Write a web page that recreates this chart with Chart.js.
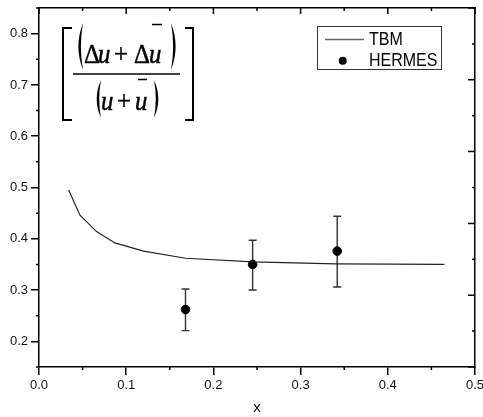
<!DOCTYPE html>
<html><head><meta charset="utf-8">
<script src="https://cdn.jsdelivr.net/npm/chart.js@4/dist/chart.umd.min.js"></script>
<style>html,body{margin:0;padding:0;background:#fff}canvas{display:block}</style>
</head><body>
<canvas id="c" width="483" height="417"></canvas>
<script>
// ---- data ----
const tbmX = [0.034, 0.047, 0.066, 0.087, 0.12, 0.168, 0.245, 0.34, 0.465];
const tbmY = [0.495, 0.446, 0.414, 0.392, 0.376, 0.362, 0.355, 0.351, 0.350];
const hermesX = [0.168, 0.245, 0.342];
const hermesY = [0.262, 0.350, 0.376];
const hermesErrLow = [0.221, 0.300, 0.306];
const hermesErrHigh = [0.302, 0.397, 0.444];
const xTicks = [0.0, 0.1, 0.2, 0.3, 0.4, 0.5];
const xMinorTicks = [0.05, 0.15, 0.25, 0.35, 0.45];
const yTicks = [0.2, 0.3, 0.4, 0.5, 0.6, 0.7, 0.8];
const yMinorTicks = [0.15, 0.25, 0.35, 0.45, 0.55, 0.65, 0.75, 0.85];
const rightTicks = [0.0, 0.2, 0.4, 0.6, 0.8, 1.0];
const rightMinorTicks = [0.1, 0.3, 0.5, 0.7, 0.9];
const seriesLabels = ['TBM', 'HERMES'];
const xTitle = 'x';

const FONT = "'Liberation Sans', Arial, Helvetica, sans-serif";
const SERIF = "'Liberation Serif', 'Times New Roman', serif";

const extras = {
  id: 'extras',
  beforeDatasetsDraw(chart) {
    const ctx = chart.ctx, xs = chart.scales.x, ys = chart.scales.y;
    ctx.save();
    ctx.strokeStyle = '#333';
    ctx.lineWidth = 1.4;
    for (let i = 0; i < hermesX.length; i++) {
      const px = xs.getPixelForValue(hermesX[i]);
      const lo = ys.getPixelForValue(hermesErrLow[i]);
      const hi = ys.getPixelForValue(hermesErrHigh[i]);
      ctx.beginPath();
      ctx.moveTo(px, lo); ctx.lineTo(px, hi);
      ctx.moveTo(px - 4, lo); ctx.lineTo(px + 4, lo);
      ctx.moveTo(px - 4, hi); ctx.lineTo(px + 4, hi);
      ctx.stroke();
    }
    ctx.restore();
  },
  afterDraw(chart) {
    const ctx = chart.ctx, ca = chart.chartArea;
    const xs = chart.scales.x, ys = chart.scales.y, y2 = chart.scales.y2;
    ctx.save();
    ctx.strokeStyle = '#000';
    ctx.lineWidth = 1.5;
    ctx.beginPath();
    xMinorTicks.forEach(v => { const p = xs.getPixelForValue(v); ctx.moveTo(p, ca.bottom); ctx.lineTo(p, ca.bottom + 3); });
    yMinorTicks.forEach(v => { const p = ys.getPixelForValue(v); ctx.moveTo(ca.left - 3, p); ctx.lineTo(ca.left, p); });
    xTicks.forEach(v => { const p = xs.getPixelForValue(v); ctx.moveTo(p, ca.top); ctx.lineTo(p, ca.top + 6); });
    xMinorTicks.forEach(v => { const p = xs.getPixelForValue(v); ctx.moveTo(p, ca.top); ctx.lineTo(p, ca.top + 3); });
    rightTicks.forEach(v => { const p = y2.getPixelForValue(v); ctx.moveTo(ca.right - 7, p); ctx.lineTo(ca.right, p); });
    rightMinorTicks.forEach(v => { const p = y2.getPixelForValue(v); ctx.moveTo(ca.right - 3, p); ctx.lineTo(ca.right, p); });
    ctx.stroke();

    // legend
    ctx.lineWidth = 1;
    ctx.strokeStyle = '#333';
    ctx.strokeRect(317.5, 26.5, 124, 43);
    ctx.strokeStyle = '#666';
    ctx.lineWidth = 1.3;
    ctx.beginPath(); ctx.moveTo(325, 39.5); ctx.lineTo(364, 39.5); ctx.stroke();
    ctx.fillStyle = '#000';
    ctx.beginPath(); ctx.arc(342.7, 60.7, 4, 0, Math.PI * 2); ctx.fill();
    ctx.textBaseline = 'middle';
    ctx.textAlign = 'left';
    ctx.font = '16px ' + FONT;
    [[chart.data.datasets[0].label, 40], [chart.data.datasets[1].label, 61]].forEach(([t, yy]) => {
      ctx.save();
      ctx.translate(369, yy);
      ctx.scale(1, 1.12);
      ctx.fillText(t, 0, 0);
      ctx.restore();
    });

    // formula
    ctx.strokeStyle = '#000';
    ctx.fillStyle = '#000';
    ctx.lineWidth = 2;
    ctx.beginPath();
    ctx.moveTo(72, 28); ctx.lineTo(63, 28); ctx.lineTo(63, 120); ctx.lineTo(72, 120);
    ctx.moveTo(185, 28); ctx.lineTo(193, 28); ctx.lineTo(193, 120); ctx.lineTo(185, 120);
    ctx.stroke();
    ctx.lineWidth = 1.4;
    ctx.beginPath(); ctx.moveTo(73, 74); ctx.lineTo(180, 74); ctx.stroke();
    function paren(x0, y0, y1, bulge, dir) {
      const mid = (y0 + y1) / 2;
      ctx.beginPath();
      ctx.moveTo(x0, y0);
      ctx.quadraticCurveTo(x0 + dir * bulge * 2, mid, x0, y1);
      ctx.quadraticCurveTo(x0 + dir * (bulge * 2 - 5), mid, x0, y0);
      ctx.fill();
    }
    paren(83, 23, 70, 4.6, -1);
    paren(171, 23, 70, 4.6, 1);
    paren(101, 80, 118, 4.3, -1);
    paren(154, 80, 118, 4.3, 1);
    ctx.textBaseline = 'alphabetic';
    const up = '27px ' + SERIF, it = 'italic 27px ' + SERIF;
    function glyph(t, f, x, yb) {
      ctx.save();
      ctx.font = f;
      ctx.translate(x, yb);
      ctx.scale(0.92, 1);
      ctx.fillText(t, 0, 0);
      ctx.lineWidth = 0.5;
      ctx.strokeText(t, 0, 0);
      ctx.restore();
    }
    glyph('\u0394', up, 84, 63);
    glyph('u', it, 98, 63);
    glyph('+', up, 114, 63);
    glyph('\u0394', up, 134, 63);
    glyph('u', it, 149, 63);
    glyph('u', it, 101, 110);
    glyph('+', up, 117, 110);
    glyph('u', it, 135, 110);
    ctx.lineWidth = 1.4;
    ctx.beginPath();
    ctx.moveTo(152, 24.5); ctx.lineTo(162, 24.5);
    ctx.moveTo(138, 79.5); ctx.lineTo(147, 79.5);
    ctx.stroke();
    ctx.restore();
  }
};

new Chart(document.getElementById('c'), {
  type: 'scatter',
  data: {
    datasets: [
      {
        label: seriesLabels[0], type: 'line',
        data: tbmX.map((v, i) => ({ x: v, y: tbmY[i] })),
        borderColor: '#222', borderWidth: 1.2, pointRadius: 0, fill: false, tension: 0,
        xAxisID: 'x', yAxisID: 'y'
      },
      {
        label: seriesLabels[1],
        data: hermesX.map((v, i) => ({ x: v, y: hermesY[i] })),
        backgroundColor: '#000', borderColor: '#000', pointRadius: 4.3, pointHoverRadius: 4.3,
        showLine: false, xAxisID: 'x', yAxisID: 'y'
      }
    ]
  },
  options: {
    responsive: false, animation: false, devicePixelRatio: 1,
    layout: { padding: 0 },
    plugins: { legend: { display: false }, tooltip: { enabled: false } },
    scales: {
      x: {
        type: 'linear', position: 'bottom', min: 0, max: 0.5,
        afterBuildTicks: s => { s.ticks = xTicks.map(v => ({ value: v })); },
        afterFit: s => { s.height = 50; s.paddingLeft = 0; s.paddingRight = 0; },
        ticks: { callback: v => v.toFixed(1), color: '#111', font: { family: FONT, size: 13 }, padding: 3, maxRotation: 0, autoSkip: false },
        grid: { display: true, drawOnChartArea: false, drawTicks: true, tickLength: 8, color: '#000', lineWidth: 1.5 },
        border: { display: true, color: '#000', width: 1.5 },
        title: { display: true, text: xTitle, color: '#111', font: { family: FONT, size: 15 }, padding: { top: 0, bottom: 0 } }
      },
      y: {
        type: 'linear', position: 'left', min: 0.15, max: 0.85,
        afterBuildTicks: s => { s.ticks = yTicks.map(v => ({ value: v })); },
        afterFit: s => { s.width = 39; s.paddingTop = 0; s.paddingBottom = 0; },
        ticks: { callback: v => v.toFixed(1), color: '#111', font: { family: FONT, size: 13 }, padding: 3, autoSkip: false },
        grid: { display: true, drawOnChartArea: false, drawTicks: true, tickLength: 8, color: '#000', lineWidth: 1.5 },
        border: { display: true, color: '#000', width: 1.5 }
      },
      x2: {
        type: 'linear', position: 'top', min: 0, max: 0.5,
        afterFit: s => { s.height = 8; s.paddingLeft = 0; s.paddingRight = 0; },
        ticks: { display: false }, grid: { display: false },
        border: { display: true, color: '#000', width: 1.5 }
      },
      y2: {
        type: 'linear', position: 'right', min: 0, max: 1,
        afterFit: s => { s.width = 8; s.paddingTop = 0; s.paddingBottom = 0; },
        ticks: { display: false }, grid: { display: false },
        border: { display: true, color: '#000', width: 1.5 }
      }
    }
  },
  plugins: [extras]
});
</script>
</body></html>
